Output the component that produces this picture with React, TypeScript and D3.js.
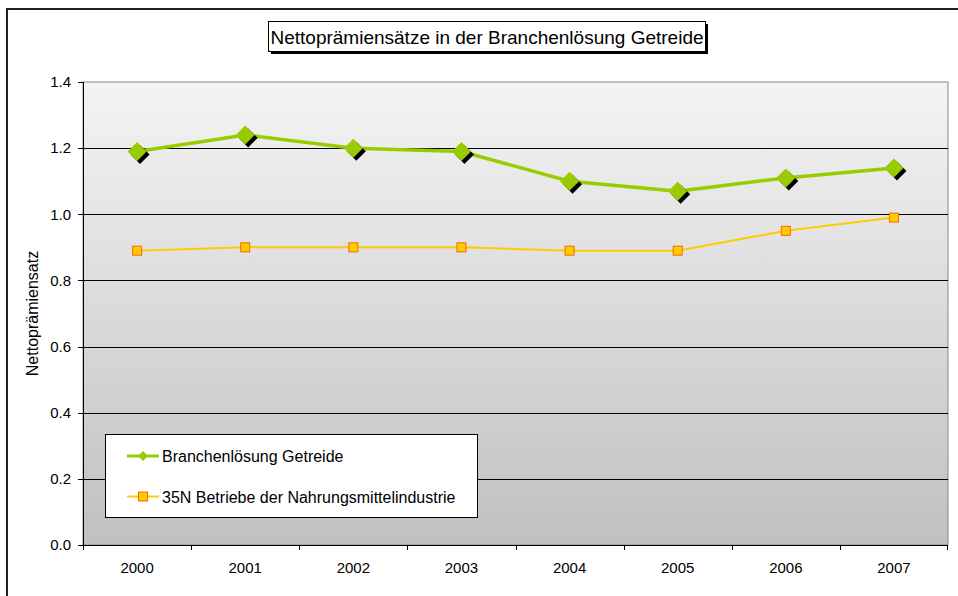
import React from "react";
import * as d3 from "d3";

const years = ["2000", "2001", "2002", "2003", "2004", "2005", "2006", "2007"];
const branchenloesung = [1.19, 1.24, 1.2, 1.19, 1.1, 1.07, 1.11, 1.14];
const nahrungsmittel = [0.89, 0.9, 0.9, 0.9, 0.89, 0.89, 0.95, 0.99];
const yTicks = [0, 0.2, 0.4, 0.6, 0.8, 1.0, 1.2, 1.4];
const title = "Nettoprämiensätze in der Branchenlösung Getreide";
const yLabel = "Nettoprämiensatz";
const seriesNames = ["Branchenlösung Getreide", "35N Betriebe der Nahrungsmittelindustrie"];

export default function App() {
  const W = 958, H = 596;
  const left = 83, right = 948, top = 82, bottom = 545;
  const x = d3.scaleBand().domain(years).range([left, right]).padding(0);
  const y = d3.scaleLinear().domain([0, 1.4]).range([bottom, top]);
  const cx = (yr: string) => (x(yr) as number) + x.bandwidth() / 2;
  const line = d3.line<number>().x((_, i) => cx(years[i])).y((d) => y(d));
  const font = "Arial, 'Liberation Sans', sans-serif";
  const dia = 9.5;
  const diamond = (px: number, py: number, r: number) =>
    `M${px},${py - r}L${px + r},${py}L${px},${py + r}L${px - r},${py}Z`;
  const sq = 4.5;

  return (
    <svg width={W} height={H} style={{ position: "absolute", left: 0, top: 0 }} fontFamily={font}>
      <defs>
        <linearGradient id="bg" x1="0" y1="0" x2="0" y2="1">
          <stop offset="0" stopColor="#f4f4f4" />
          <stop offset="1" stopColor="#c0c0c0" />
        </linearGradient>
      </defs>
      <rect x={0} y={0} width={W} height={H} fill="#fff" />
      <rect x={7} y={9} width={W + 20} height={H + 20} fill="#fff" stroke="#222" strokeWidth={2} />
      {/* plot area */}
      <rect x={left} y={top} width={right - left} height={bottom - top} fill="url(#bg)" stroke="#888" strokeWidth={1} />
      {yTicks.slice(1, -1).map((t) => (
        <line key={t} x1={left} x2={right} y1={Math.round(y(t)) + 0.5} y2={Math.round(y(t)) + 0.5} stroke="#000" strokeWidth={1} />
      ))}
      {/* axes */}
      <line x1={left + 0.5} x2={left + 0.5} y1={top} y2={bottom} stroke="#000" />
      <line x1={left} x2={right} y1={bottom + 0.5} y2={bottom + 0.5} stroke="#000" />
      {yTicks.map((t) => (
        <g key={t}>
          <line x1={left - 5} x2={left} y1={Math.round(y(t)) + 0.5} y2={Math.round(y(t)) + 0.5} stroke="#000" />
          <text x={left - 12} y={y(t)} dy="0.35em" textAnchor="end" fontSize={15} fill="#000">
            {t.toFixed(1)}
          </text>
        </g>
      ))}
      {years.map((yr, i) => (
        <g key={yr}>
          <line x1={Math.round(x(yr) as number) + 0.5} x2={Math.round(x(yr) as number) + 0.5} y1={bottom} y2={bottom + 5} stroke="#000" />
          {i === years.length - 1 && (
            <line x1={right - 0.5} x2={right - 0.5} y1={bottom} y2={bottom + 5} stroke="#000" />
          )}
          <text x={cx(yr)} y={573} textAnchor="middle" fontSize={15} fill="#000">
            {yr}
          </text>
        </g>
      ))}
      <text transform={`translate(38,${(top + bottom) / 2}) rotate(-90)`} textAnchor="middle" fontSize={16} fill="#000">
        {yLabel}
      </text>
      {/* series 2 */}
      <path d={line(nahrungsmittel) as string} fill="none" stroke="#ffcc00" strokeWidth={2} />
      {nahrungsmittel.map((v, i) => (
        <rect key={i} x={cx(years[i]) - sq} y={y(v) - sq} width={sq * 2} height={sq * 2} fill="#ffcc00" stroke="#ff6600" strokeWidth={1} />
      ))}
      {/* series 1 */}
      <path d={line(branchenloesung) as string} fill="none" stroke="#99cc00" strokeWidth={3.5} />
      {branchenloesung.map((v, i) => (
        <g key={i}>
          <path d={diamond(cx(years[i]) + 3, y(v) + 3, dia)} fill="#000" />
          <path d={diamond(cx(years[i]), y(v), dia)} fill="#99cc00" />
        </g>
      ))}
      {/* title */}
      <rect x={271} y={24} width={437} height={30} fill="#000" />
      <rect x={268.5} y={21.5} width={437} height={30} fill="#fff" stroke="#000" strokeWidth={1} />
      <text x={487} y={44} textAnchor="middle" fontSize={19} fill="#000">
        {title}
      </text>
      {/* legend */}
      <rect x={105.5} y={434.5} width={372} height={83} fill="#fff" stroke="#000" strokeWidth={1} />
      <line x1={127} x2={159} y1={456} y2={456} stroke="#99cc00" strokeWidth={3} />
      <path d={diamond(143, 456, 5)} fill="#99cc00" />
      <text x={162} y={456} dy="0.35em" fontSize={16} fill="#000">
        {seriesNames[0]}
      </text>
      <line x1={127} x2={159} y1={496.5} y2={496.5} stroke="#ffcc00" strokeWidth={2} />
      <rect x={138.5} y={492} width={9} height={9} fill="#ffcc00" stroke="#ff6600" strokeWidth={1} />
      <text x={162} y={497} dy="0.35em" fontSize={16} fill="#000">
        {seriesNames[1]}
      </text>
    </svg>
  );
}
